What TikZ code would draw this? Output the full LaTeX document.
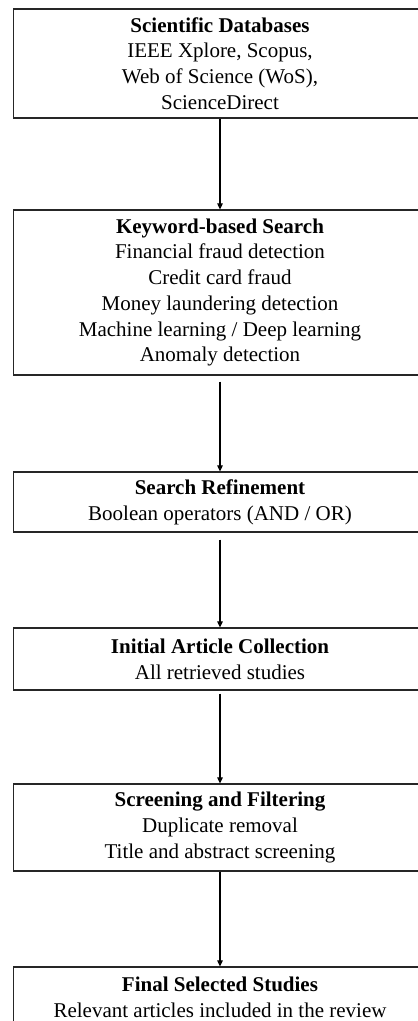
\documentclass[tikz,border=0pt]{standalone}
\usepackage{fontspec}
\setmainfont{Liberation Serif}
\usetikzlibrary{arrows.meta}
\begin{document}
\begin{tikzpicture}[x=1pt,y=-1pt,
  box/.style={draw=black!85, line width=1.2pt, rectangle, minimum width=413pt,
    align=center, inner sep=0pt, font=\fontsize{21}{25.7}\selectfont},
  flow/.style={draw=black, line width=1.1pt, -{Triangle[length=6pt,width=5.5pt]}}]
\useasboundingbox (0,0) rectangle (418,1021);
\clip (0,0) rectangle (418,1021);
\node[box, minimum height=109pt] (db) at (220,63.5)
  {\textbf{Scientific Databases}\\IEEE Xplore, Scopus,\\Web of Science (WoS),\\ScienceDirect};
\node[box, minimum height=165pt] (kw) at (220,292.5)
  {\textbf{Keyword-based Search}\\Financial fraud detection\\Credit card fraud\\Money laundering detection\\Machine learning / Deep learning\\Anomaly detection};
\node[box, minimum height=60pt] (sr) at (220,502)
  {\textbf{Search Refinement}\\Boolean operators (AND / OR)};
\node[box, minimum height=62pt] (ia) at (220,659)
  {\textbf{Initial Article Collection}\\All retrieved studies};
\node[box, minimum height=87pt] (sf) at (220,827.5)
  {\textbf{Screening and Filtering}\\Duplicate removal\\Title and abstract screening};
\node[box, minimum height=61pt] (fs) at (220,997.5)
  {\textbf{Final Selected Studies}\\Relevant articles included in the review};
\draw[flow] (db) -- (kw);
\draw[flow, shorten <=6pt] (kw) -- (sr);
\draw[flow, shorten <=7pt] (sr) -- (ia);
\draw[flow, shorten <=3pt] (ia) -- (sf);
\draw[flow] (sf) -- (fs);
\end{tikzpicture}
\end{document}
